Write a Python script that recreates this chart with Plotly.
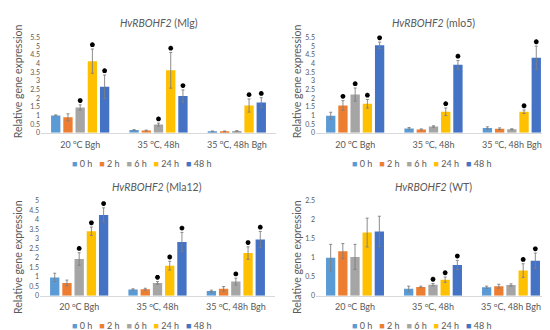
import plotly.graph_objects as go
from plotly.subplots import make_subplots

categories = ["20 <sup>o</sup>C Bgh", "35 <sup>o</sup>C, 48h", "35 <sup>o</sup>C, 48h Bgh"]
series = ["0 h", "2 h", "6 h", "24 h", "48 h"]
colors = ["#5B9BD5", "#ED7D31", "#A5A5A5", "#FFC000", "#4472C4"]

# rows = time points (series), columns = categories
mlg_mean = [[1.00, 0.15, 0.08], [0.89, 0.13, 0.08], [1.46, 0.47, 0.10], [4.13, 3.60, 1.57], [2.65, 2.12, 1.74]]
mlg_err = [[0.03, 0.03, 0.02], [0.20, 0.02, 0.02], [0.15, 0.08, 0.02], [0.70, 1.03, 0.38], [0.68, 0.35, 0.28]]
mlg_sig = [[0, 0, 0], [0, 0, 0], [1, 1, 0], [1, 1, 1], [1, 1, 1]]

mlo5_mean = [[0.98, 0.25, 0.27], [1.57, 0.19, 0.23], [2.20, 0.36, 0.20], [1.67, 1.21, 1.21], [5.04, 3.92, 4.32]]
mlo5_err = [[0.20, 0.05, 0.07], [0.28, 0.03, 0.05], [0.38, 0.04, 0.03], [0.25, 0.22, 0.10], [0.19, 0.25, 0.68]]
mlo5_sig = [[0, 0, 0], [1, 0, 0], [1, 0, 0], [1, 1, 1], [1, 1, 1]]

mla12_mean = [[0.96, 0.33, 0.24], [0.67, 0.34, 0.36], [1.93, 0.67, 0.74], [3.39, 1.58, 2.24], [4.25, 2.83, 2.95]]
mla12_err = [[0.22, 0.03, 0.05], [0.15, 0.05, 0.12], [0.33, 0.07, 0.18], [0.22, 0.23, 0.33], [0.37, 0.50, 0.43]]
mla12_sig = [[0, 0, 0], [0, 0, 0], [1, 1, 1], [1, 1, 1], [1, 1, 1]]

wt_mean = [[1.00, 0.18, 0.22], [1.17, 0.23, 0.25], [1.02, 0.29, 0.28], [1.66, 0.42, 0.66], [1.69, 0.81, 0.92]]
wt_err = [[0.35, 0.07, 0.03], [0.20, 0.02, 0.05], [0.33, 0.03, 0.03], [0.38, 0.07, 0.18], [0.40, 0.12, 0.20]]
wt_sig = [[0, 0, 0], [0, 0, 0], [0, 1, 0], [0, 1, 1], [0, 1, 1]]

panels = [
    ("Mlg", mlg_mean, mlg_err, mlg_sig, 5.5),
    ("mlo5", mlo5_mean, mlo5_err, mlo5_sig, 5.5),
    ("Mla12", mla12_mean, mla12_err, mla12_sig, 5.0),
    ("WT", wt_mean, wt_err, wt_sig, 2.5),
]

FONT = "Lato, 'Liberation Sans', sans-serif"
GRAY = "#595959"

fig = make_subplots(rows=2, cols=2)

# domains in pixels (550x330)
xdoms = [(33, 268), (308, 543), (32, 267), (308, 542)]
ydoms = [(25, 122.7), (25, 122.7), (192.3, 289.7), (192.3, 289.7)]
W, H = 550, 330

step = 0.156
width = 0.119
start = -(4 * step + width) / 2
cat_x = list(range(len(categories)))

for p, (name, mean, err, sig, ymax) in enumerate(panels):
    r, c = p // 2 + 1, p % 2 + 1
    for i, s in enumerate(series):
        off = start + i * step
        fig.add_trace(go.Bar(
            x=cat_x, y=mean[i], name=s, offset=off, width=width,
            marker=dict(color=colors[i], line=dict(width=0)),
            error_y=dict(type="data", array=err[i], visible=True,
                         color="#7F7F7F", thickness=0.9, width=1.5),
            showlegend=False,
        ), row=r, col=c)
        sx, sy = [], []
        for j in cat_x:
            if sig[i][j]:
                sx.append(j + off + width / 2)
                sy.append(min(mean[i][j] + err[i][j] + ymax * 0.045, ymax * 0.999))
        if sx:
            fig.add_trace(go.Scatter(
                x=sx, y=sy, mode="markers",
                marker=dict(symbol="asterisk-open", size=4, color="black",
                            line=dict(color="black", width=1.5)),
                cliponaxis=False, showlegend=False, hoverinfo="skip",
            ), row=r, col=c)

    xd = xdoms[p]
    yd = ydoms[p]
    xa = "xaxis" if p == 0 else f"xaxis{p+1}"
    ya = "yaxis" if p == 0 else f"yaxis{p+1}"
    fig.layout[xa].update(
        domain=[xd[0] / W, xd[1] / W], range=[-0.5, 2.5],
        tickvals=cat_x, ticktext=categories, showgrid=False, zeroline=False,
        showline=True, linecolor="#D9D9D9", linewidth=1, ticks="",
        tickfont=dict(family=FONT, size=9, color=GRAY), ticklabelstandoff=3,
    )
    fig.layout[ya].update(
        domain=[1 - yd[1] / H, 1 - yd[0] / H], range=[0, ymax], dtick=0.5,
        showgrid=False, zeroline=False, showline=False, ticks="",
        tickfont=dict(family=FONT, size=7, color=GRAY),
    )

    # panel title
    ty = 10 if p < 2 else 178
    fig.add_annotation(
        x=(xd[0] + xd[1]) / 2 / W, y=1 - ty / H, xref="paper", yref="paper",
        text=f"<i>HvRBOHF2</i> ({name})", showarrow=False,
        font=dict(family=FONT, size=10.5, color=GRAY), xanchor="center", yanchor="middle",
    )
    # y-axis title
    tx = 10 if c == 1 else 289
    tyc = 70 if p < 2 else 250
    fig.add_annotation(
        x=tx / W, y=1 - tyc / H, xref="paper", yref="paper",
        text="Relative gene expression", textangle=-90, showarrow=False,
        font=dict(family=FONT, size=10.5, color=GRAY), xanchor="center", yanchor="middle",
    )
    # legend row
    lx = 134 if c == 1 else 414
    ly = 154 if p < 2 else 320
    parts = [f"<span style='color:{colors[i]}'>■</span> {s}" for i, s in enumerate(series)]
    fig.add_annotation(
        x=lx / W, y=1 - ly / H, xref="paper", yref="paper",
        text="   ".join(parts), showarrow=False,
        font=dict(family=FONT, size=9, color=GRAY), xanchor="center", yanchor="middle",
    )

fig.update_layout(
    width=W, height=H, margin=dict(l=0, r=0, t=0, b=0),
    paper_bgcolor="white", plot_bgcolor="white", barmode="overlay",
    showlegend=False,
)

fig.write_html("out.html")
